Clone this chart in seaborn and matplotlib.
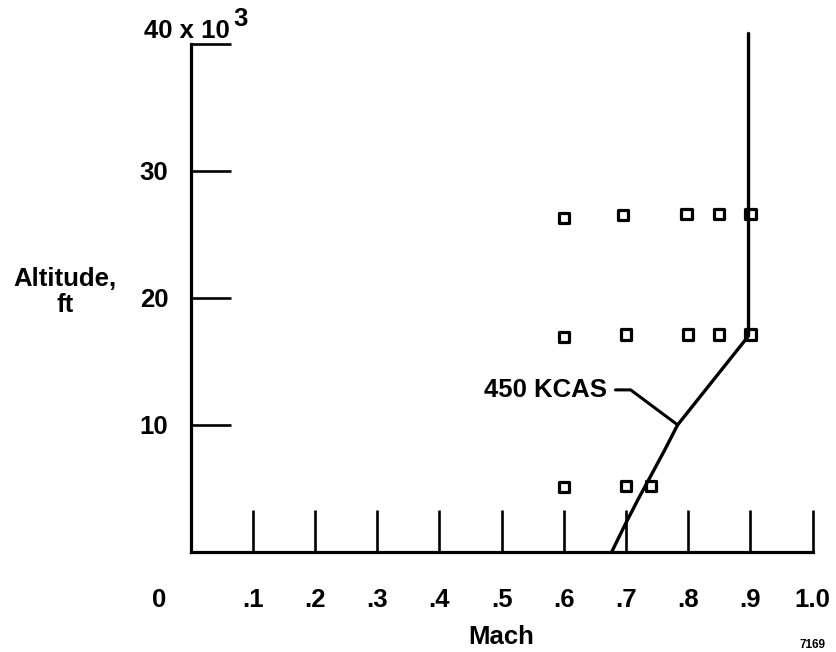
import numpy as np
import pandas as pd
import matplotlib
matplotlib.use("Agg")
import matplotlib.pyplot as plt
import seaborn as sns

# ---- data ----
curve_mach = [0.677, 0.698, 0.719, 0.740, 0.762, 0.783, 0.840, 0.897, 0.897]
curve_alt = [0.0, 2.1, 4.1, 6.0, 8.0, 10.0, 13.5, 17.0, 40.8]
curve_label = "450 KCAS"

point_mach = [0.60, 0.695, 0.797, 0.85, 0.90,
              0.60, 0.70, 0.80, 0.85, 0.90,
              0.60, 0.70, 0.74]
point_alt = [26.3, 26.5, 26.6, 26.6, 26.6,
             16.9, 17.1, 17.1, 17.1, 17.1,
             5.1, 5.2, 5.2]

x_ticks = [0.1, 0.2, 0.3, 0.4, 0.5, 0.6, 0.7, 0.8, 0.9, 1.0]
x_ticklabels = [".1", ".2", ".3", ".4", ".5", ".6", ".7", ".8", ".9", "1.0"]
y_ticks = [10, 20, 30, 40]
y_ticklabels = ["10", "20", "30", ""]
x_label = "Mach"
y_label = "Altitude,\nft"
top_label = "40 x 10"
top_exp = "3"
figure_id = "7169"

sns.set_theme(style="white")
plt.rcParams["font.family"] = ["Liberation Sans", "DejaVu Sans"]
plt.rcParams["font.weight"] = "bold"
for k in ["text.color", "axes.labelcolor", "xtick.color", "ytick.color",
          "axes.edgecolor"]:
    plt.rcParams[k] = "black"

DPI = 100
fig = plt.figure(figsize=(8.37, 6.52), dpi=DPI)
ax = fig.add_axes([0.2277, 0.1534, 0.758, 0.8187])

curve = pd.DataFrame({"mach": curve_mach, "alt": curve_alt})
pts = pd.DataFrame({"mach": point_mach, "alt": point_alt})

sns.lineplot(data=curve, x="mach", y="alt", sort=False, estimator=None,
             color="black", lw=2.4, ax=ax)
sns.scatterplot(data=pts, x="mach", y="alt", marker="s", s=56,
                facecolors="none", edgecolor="black", linewidth=2.3,
                ax=ax, zorder=3)
for coll in ax.collections:
    coll.set_facecolor("none")
    coll.set_edgecolor("black")

ax.set_xlim(0, 1.02)
ax.set_ylim(0, 42)

for s in ["top", "right"]:
    ax.spines[s].set_visible(False)
for s in ["left", "bottom"]:
    ax.spines[s].set_color("black")
    ax.spines[s].set_linewidth(2.3)
ax.spines["left"].set_bounds(0, 40)
ax.spines["bottom"].set_bounds(0, 1.0)

FS = 18.5
ax.set_xticks(x_ticks)
ax.set_xticklabels(x_ticklabels, fontsize=FS, fontweight="bold", color="black")
ax.set_yticks(y_ticks)
ax.set_yticklabels(y_ticklabels, fontsize=FS, fontweight="bold", color="black")
ax.tick_params(axis="x", direction="in", length=30, width=1.9, color="black",
               pad=26, bottom=True)
ax.tick_params(axis="y", direction="in", length=29, width=1.9, color="black",
               pad=16, left=True)

# origin label "0"
ax.annotate("0", xy=(0, 0), xytext=(-31, -36), textcoords="offset pixels",
            ha="center", va="top", fontsize=FS, fontweight="bold",
            color="black", annotation_clip=False)
# top tick label "40 x 10^3"
ax.annotate(top_label, xy=(0, 40), xytext=(-4, 13), textcoords="offset pixels",
            ha="center", va="center", fontsize=FS, fontweight="bold",
            color="black", annotation_clip=False)
ax.annotate(top_exp, xy=(0, 40), xytext=(50, 25), textcoords="offset pixels",
            ha="center", va="center", fontsize=FS, fontweight="bold",
            color="black", annotation_clip=False)

ax.set_xlabel(x_label, fontsize=FS, fontweight="bold", color="black")
ax.xaxis.label.set_va("center")
ax.xaxis.set_label_coords(0.5 / 1.02, -0.159)
ax.set_ylabel(y_label, fontsize=FS, fontweight="bold", rotation=0,
              ha="center", va="center", multialignment="center",
              linespacing=1.15, color="black")
ax.yaxis.set_label_coords(-0.198, 0.487)

# curve label with leader line
anchor_alt = 10.0
anchor_mach = float(np.interp(anchor_alt, curve_alt[:-1], curve_mach[:-1]))
ax.annotate(curve_label, xy=(anchor_mach, anchor_alt), xytext=(-71, 35),
            textcoords="offset pixels", ha="right", va="center",
            fontsize=FS, fontweight="bold", color="black",
            arrowprops=dict(arrowstyle="-", color="black", lw=2.2,
                            shrinkA=4, shrinkB=0,
                            connectionstyle="angle,angleA=0,angleB=-36.7,rad=0"))

fig.text(0.971, 0.002, figure_id, ha="center", va="bottom", fontsize=8.5,
         fontweight="bold", color="black")

fig.savefig("out.png", dpi=DPI)
